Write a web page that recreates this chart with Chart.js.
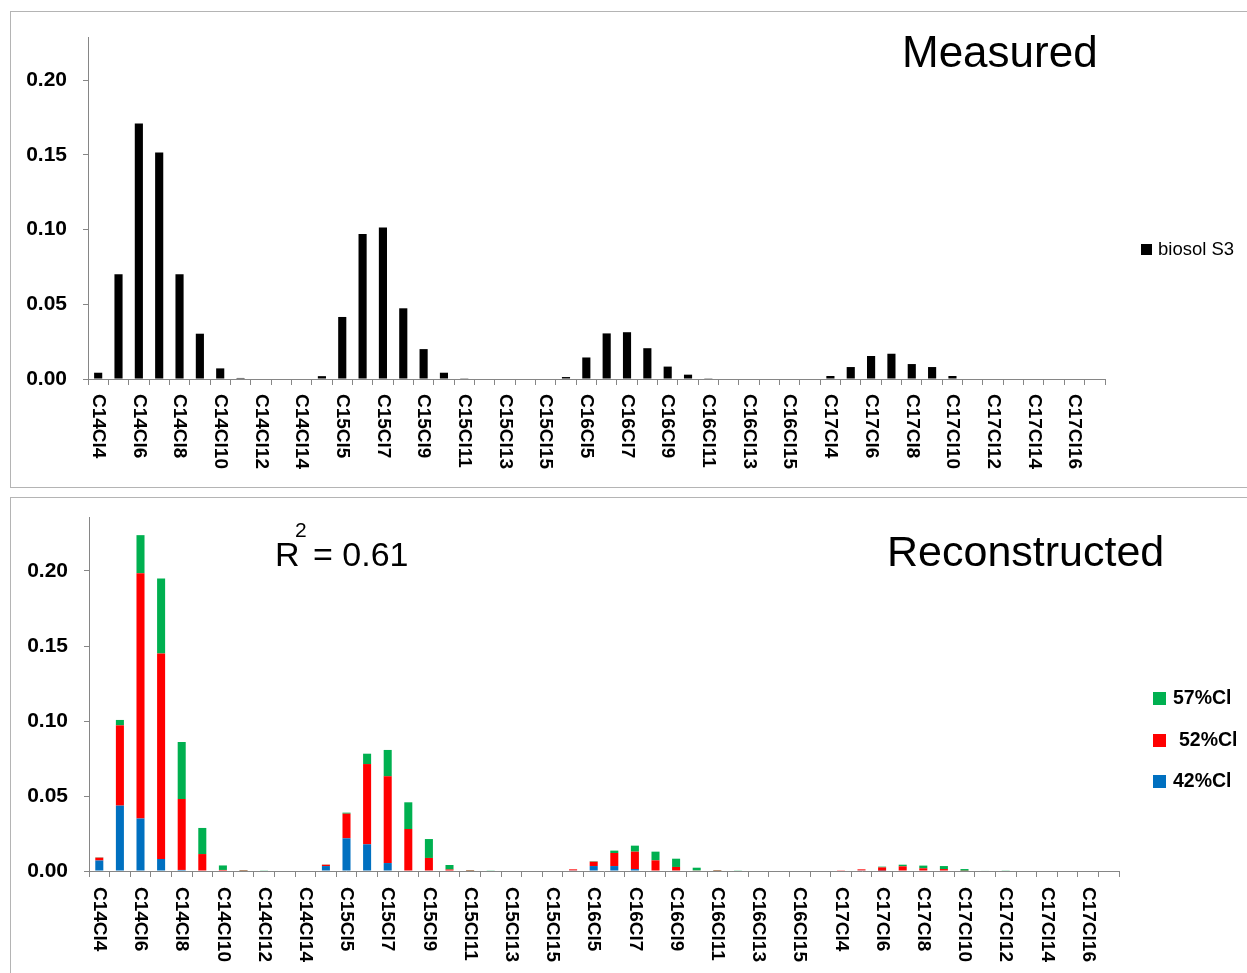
<!DOCTYPE html>
<html lang="en">
<head>
  <meta charset="UTF-8" />
  <title>Measured vs Reconstructed</title>
  <script src="https://cdn.jsdelivr.net/npm/chart.js"></script>
  <style>
    body { margin: 0; background: #fff; font-family: "Liberation Sans", Arial, sans-serif; }
    #page { position: relative; width: 1247px; height: 973px; overflow: hidden; }
    .panel { position: absolute; left: 10px; width: 1250px; border: 1px solid #b4b4b4; box-sizing: border-box; }
    canvas { position: absolute; left: 10px; }
    .txt { position: absolute; white-space: nowrap; color: #000; }
    .sw { position: absolute; }
  </style>
</head>
<body>
<div id="page">
  <div class="panel" style="top:11px;height:477px"></div>
  <div class="panel" style="top:497px;height:480px"></div>

  <canvas id="measuredCanvas" width="1237" height="476" style="top:11px"></canvas>
  <canvas id="reconCanvas" width="1237" height="476" style="top:497px"></canvas>

  <div class="txt" style="left:902px;top:30px;font-size:44px;line-height:44px">Measured</div>
  <div class="txt" style="left:887px;top:530px;font-size:43px;line-height:43px">Reconstructed</div>
  <div class="txt" style="left:275px;top:537px;font-size:34px;line-height:34px">R</div>
  <div class="txt" style="left:295px;top:519px;font-size:21px;line-height:21px">2</div>
  <div class="txt" style="left:313px;top:537px;font-size:34px;line-height:34px">= 0.61</div>

  <div class="sw" style="left:1141px;top:244px;width:11px;height:11px;background:#000"></div>
  <div class="txt" style="left:1158px;top:240px;font-size:18.5px;line-height:18.5px">biosol S3</div>

  <div class="sw" style="left:1153px;top:692px;width:13px;height:13px;background:#00B050"></div>
  <div class="txt" style="left:1173px;top:688px;font-size:19.5px;line-height:19.5px;font-weight:bold">57%Cl</div>
  <div class="sw" style="left:1153px;top:734px;width:13px;height:13px;background:#FF0000"></div>
  <div class="txt" style="left:1179px;top:730px;font-size:19.5px;line-height:19.5px;font-weight:bold">52%Cl</div>
  <div class="sw" style="left:1153px;top:775px;width:13px;height:13px;background:#0070C0"></div>
  <div class="txt" style="left:1173px;top:771px;font-size:19.5px;line-height:19.5px;font-weight:bold">42%Cl</div>
</div>

<script>
  const categories = [
    "C14Cl4", "C14Cl5", "C14Cl6", "C14Cl7", "C14Cl8", "C14Cl9", "C14Cl10", "C14Cl11", "C14Cl12", "C14Cl13", "C14Cl14", "C14Cl15",
    "C15Cl5", "C15Cl6", "C15Cl7", "C15Cl8", "C15Cl9", "C15Cl10", "C15Cl11", "C15Cl12", "C15Cl13", "C15Cl14", "C15Cl15", "C15Cl16",
    "C16Cl5", "C16Cl6", "C16Cl7", "C16Cl8", "C16Cl9", "C16Cl10", "C16Cl11", "C16Cl12", "C16Cl13", "C16Cl14", "C16Cl15", "C16Cl16",
    "C17Cl4", "C17Cl5", "C17Cl6", "C17Cl7", "C17Cl8", "C17Cl9", "C17Cl10", "C17Cl11", "C17Cl12", "C17Cl13", "C17Cl14", "C17Cl15", "C17Cl16", "C17Cl17"
  ];

  // measured profile (biosol S3)
  const measured = [
    0.0042, 0.0700, 0.1710, 0.1515, 0.0700, 0.0303, 0.0071, 0.0007, 0, 0, 0, 0.0019,
    0.0415, 0.0970, 0.1014, 0.0473, 0.0200, 0.0042, 0.0005, 0, 0, 0, 0, 0.0013,
    0.0144, 0.0305, 0.0313, 0.0206, 0.0083, 0.0029, 0.0005, 0, 0, 0, 0, 0,
    0.0020, 0.0080, 0.0154, 0.0169, 0.0100, 0.0080, 0.0020, 0, 0, 0, 0, 0, 0, 0
  ];

  // reconstructed contributions
  const cl42 = [
    0.0070, 0.0436, 0.0350, 0.0080, 0.0007, 0, 0, 0, 0, 0, 0, 0.0033,
    0.0218, 0.0178, 0.0053, 0, 0, 0, 0, 0, 0, 0, 0, 0.0004,
    0.0033, 0.0033, 0.0013, 0, 0, 0, 0, 0, 0, 0, 0, 0,
    0, 0.0004, 0.0002, 0, 0, 0, 0, 0, 0, 0, 0, 0, 0, 0
  ];
  const cl52 = [
    0.0019, 0.0535, 0.1635, 0.1370, 0.0473, 0.0113, 0.0007, 0.0001, 0, 0, 0, 0.0009,
    0.0164, 0.0535, 0.0578, 0.0280, 0.0087, 0.0010, 0.0001, 0, 0, 0, 0, 0.0007,
    0.0029, 0.0087, 0.0116, 0.0071, 0.0027, 0.0004, 0.0001, 0, 0, 0, 0, 0,
    0.0005, 0.0007, 0.0022, 0.0031, 0.0018, 0.0013, 0.0002, 0, 0, 0, 0, 0, 0, 0
  ];
  const cl57 = [
    0.0002, 0.0036, 0.0254, 0.0500, 0.0380, 0.0174, 0.0030, 0.0003, 0.0002, 0, 0, 0.0001,
    0.0007, 0.0069, 0.0176, 0.0178, 0.0126, 0.0030, 0.0003, 0.0002, 0, 0, 0, 0,
    0.0003, 0.0016, 0.0040, 0.0058, 0.0055, 0.0018, 0.0003, 0.0002, 0, 0, 0, 0,
    0, 0, 0.0005, 0.0011, 0.0018, 0.0020, 0.0011, 0.0003, 0.0002, 0, 0, 0, 0, 0
  ];

  const axisGray = "#868686";

  // Excel-style labels reading top to bottom, every other category
  const verticalLabels = {
    id: "verticalLabels",
    afterDraw(chart, args, opts) {
      const xs = chart.scales.x;
      const ctx = chart.ctx;
      ctx.save();
      ctx.font = 'bold 19px "Liberation Sans", Arial, sans-serif';
      ctx.fillStyle = "#000";
      ctx.textAlign = "left";
      ctx.textBaseline = "middle";
      categories.forEach((c, i) => {
        if (i % 2) return;
        ctx.save();
        ctx.translate(xs.getPixelForTick(i), chart.chartArea.bottom + opts.gap);
        ctx.rotate(Math.PI / 2);
        ctx.fillText(c, 0, 0);
        ctx.restore();
      });
      ctx.restore();
    }
  };

  function makeOptions(yMax, yWidth, xHeight, padTop, padRight, gap, stacked) {
    return {
      responsive: false,
      animation: false,
      layout: { padding: { top: padTop, right: padRight, left: 0, bottom: 0 } },
      plugins: {
        legend: { display: false },
        tooltip: { enabled: false },
        verticalLabels: { gap: gap }
      },
      scales: {
        x: {
          stacked: stacked,
          grid: { offset: true, drawOnChartArea: false, drawTicks: true, tickLength: 6, color: axisGray },
          border: { display: true, color: axisGray },
          ticks: { display: false },
          afterFit: s => { s.height = xHeight; s.paddingLeft = 0; s.paddingRight = 0; }
        },
        y: {
          stacked: stacked,
          min: 0,
          max: yMax,
          grid: { drawOnChartArea: false, drawTicks: true, tickLength: 5, color: axisGray },
          border: { display: true, color: axisGray },
          ticks: {
            stepSize: 0.05,
            includeBounds: false,
            padding: 16,
            color: "#000",
            font: { family: '"Liberation Sans", Arial, sans-serif', size: 21, weight: "bold" },
            callback: v => v.toFixed(2)
          },
          afterFit: s => { s.width = yWidth; s.paddingTop = 0; s.paddingBottom = 0; }
        }
      }
    };
  }

  new Chart(document.getElementById("measuredCanvas"), {
    type: "bar",
    data: {
      labels: categories,
      datasets: [{
        label: "biosol S3",
        data: measured,
        backgroundColor: "#000000",
        barPercentage: 0.4,
        categoryPercentage: 1
      }]
    },
    plugins: [verticalLabels],
    options: makeOptions(0.2288, 78, 108, 26, 142, 15, false)
  });

  new Chart(document.getElementById("reconCanvas"), {
    type: "bar",
    data: {
      labels: categories,
      datasets: [
        { label: "42%Cl", data: cl42, backgroundColor: "#0070C0", barPercentage: 0.39, categoryPercentage: 1 },
        { label: "52%Cl", data: cl52, backgroundColor: "#FF0000", barPercentage: 0.39, categoryPercentage: 1 },
        { label: "57%Cl", data: cl57, backgroundColor: "#00B050", barPercentage: 0.39, categoryPercentage: 1 }
      ]
    },
    plugins: [verticalLabels],
    options: makeOptions(0.236, 79, 102, 20, 128, 16, true)
  });
</script>
</body>
</html>
